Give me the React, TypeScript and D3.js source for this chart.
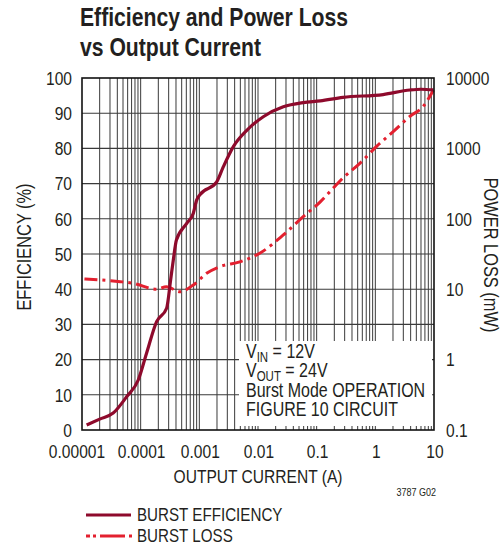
import React from "react";
import * as d3 from "d3";

const W = 502;
const H = 546;

const currentA = [1.2e-5, 2e-5, 3.4e-5, 5.8e-5, 9.1e-5, 1.26e-4, 1.87e-4, 2.77e-4, 3.24e-4, 3.6e-4, 4.07e-4, 6.1e-4, 7.9e-4, 9e-4, 1.02e-3, 1.98e-3, 2.57e-3, 3.8e-3, 6.5e-3, 0.0123, 0.027, 0.059, 0.115, 0.28, 1.36, 3.9, 6, 9.8];
const efficiency = [1.4, 3.1, 4.8, 9.5, 14.2, 21.8, 30.8, 34.6, 42.6, 48.3, 54, 58.7, 61.6, 65.3, 66.8, 70.5, 74.8, 80.5, 85.2, 89, 91.8, 93, 93.5, 94.5, 95.3, 96.6, 96.8, 96.6];

const lossCurrentA = [1.1e-5, 4.5e-5, 7.5e-5, 1.86e-4, 2.75e-4, 4.7e-4, 7.9e-4, 1.33e-3, 2.24e-3, 4.9e-3, 0.0107, 0.027, 0.059, 0.115, 0.17, 0.28, 0.55, 1.05, 2.04, 3.9, 6.6, 9.8];
const lossMw = [14, 12.8, 12.1, 10, 10.8, 9.2, 11.5, 16.8, 20.9, 24.5, 32.4, 59, 107, 174, 245, 380, 617, 1070, 1740, 2860, 3980, 6760];

const xTickValues = [0.00001, 0.0001, 0.001, 0.01, 0.1, 1, 10];
const xTickLabels = ["0.00001", "0.0001", "0.001", "0.01", "0.1", "1", "10"];
const effTicks = [0, 10, 20, 30, 40, 50, 60, 70, 80, 90, 100];
const lossTicks = [0.1, 1, 10, 100, 1000, 10000];
const lossTickLabels = ["0.1", "1", "10", "100", "1000", "10000"];

const titleLines = ["Efficiency and Power Loss", "vs Output Current"];
const legendLabels = ["BURST EFFICIENCY", "BURST LOSS"];

const FONT = "'Liberation Sans', Arial, sans-serif";
const EFF_COLOR = "#8e0a2c";
const LOSS_COLOR = "#e3202f";
const GRID = "#3a3a3a";
const INK = "#231f20";
const SX = 0.82;

type TProps = {
  x: number;
  y: number;
  size: number;
  anchor?: "start" | "middle" | "end";
  weight?: string;
  rotate?: number;
  dy?: string;
  sx?: number;
  children: React.ReactNode;
};

function T({ x, y, size, anchor = "start", weight, rotate = 0, dy, sx = SX, children }: TProps) {
  return (
    <text
      transform={`translate(${x},${y}) rotate(${rotate}) scale(${sx},1)`}
      x={0}
      y={0}
      dy={dy}
      fontSize={size}
      fontWeight={weight}
      textAnchor={anchor}
      fill={INK}
    >
      {children}
    </text>
  );
}

export default function App() {
  const left = 82, right = 434, top = 78, bottom = 430;
  const x = d3.scaleLog().domain([1e-5, 10]).range([left, right]);
  const yE = d3.scaleLinear().domain([0, 100]).range([bottom, top]);
  const yL = d3.scaleLog().domain([0.1, 10000]).range([bottom, top]);

  const vGrid: number[] = [];
  for (let dec = -5; dec <= 0; dec++) {
    for (let k = 1; k <= 9; k++) {
      if (dec === -5 && k === 1) continue;
      vGrid.push(k * Math.pow(10, dec));
    }
  }

  const effLine = d3
    .line<number>()
    .x((_, i) => x(currentA[i]))
    .y((d) => yE(d))
    .curve(d3.curveMonotoneX)(efficiency) as string;

  const lossLine = d3
    .line<number>()
    .x((_, i) => x(lossCurrentA[i]))
    .y((d) => yL(d))
    .curve(d3.curveMonotoneX)(lossMw) as string;

  const box = { x: 239, y: 341, w: 193, h: 85 };

  return (
    <svg width={W} height={H} style={{ position: "absolute", left: 0, top: 0, background: "#fff" }} fontFamily={FONT}>
      <rect x={0} y={0} width={W} height={H} fill="#fff" />
      {titleLines.map((t, i) => (
        <T key={t} x={80} y={26 + i * 30} size={25.5} weight="bold" sx={0.83}>
          {t}
        </T>
      ))}

      {vGrid.map((v) => (
        <line key={"v" + v} x1={x(v)} x2={x(v)} y1={top} y2={bottom} stroke={GRID} strokeWidth={1} />
      ))}
      {effTicks.slice(1, -1).map((v) => (
        <line key={"h" + v} x1={left} x2={right} y1={yE(v)} y2={yE(v)} stroke={GRID} strokeWidth={1.1} />
      ))}

      <path d={lossLine} fill="none" stroke={LOSS_COLOR} strokeWidth={3} strokeDasharray="13 5 3 5" />
      <path d={effLine} fill="none" stroke={EFF_COLOR} strokeWidth={3.2} strokeLinejoin="round" />

      <rect x={box.x} y={box.y} width={box.w} height={box.h} fill="#fff" />
      <g>
        <T x={246} y={357.5} size={19.5}>
          V<tspan fontSize={14} dy={4}>IN</tspan>
          <tspan dy={-4}> = 12V</tspan>
        </T>
        <T x={246} y={377} size={19.5}>
          V<tspan fontSize={14} dy={4}>OUT</tspan>
          <tspan dy={-4}> = 24V</tspan>
        </T>
        <T x={246} y={396.5} size={19.5}>Burst Mode OPERATION</T>
        <T x={246} y={416} size={19.5}>FIGURE 10 CIRCUIT</T>
      </g>

      <rect x={left} y={top} width={right - left} height={bottom - top} fill="none" stroke="#111" strokeWidth={1.6} />

      {effTicks.map((v) => (
        <T key={"el" + v} x={72} y={yE(v)} dy="0.36em" anchor="end" size={19}>
          {v}
        </T>
      ))}
      {lossTicks.map((v, i) => (
        <T key={"ll" + v} x={446} y={yL(v)} dy="0.36em" size={19}>
          {lossTickLabels[i]}
        </T>
      ))}
      {xTickValues.map((v, i) => (
        <T key={"xt" + v} x={x(v) + (i === 0 ? -5 : 1)} y={458} anchor="middle" size={19}>
          {xTickLabels[i]}
        </T>
      ))}

      <T x={258} y={483} anchor="middle" size={19}>
        OUTPUT CURRENT (A)
      </T>
      <T x={31} y={247} rotate={-90} anchor="middle" size={20}>
        EFFICIENCY (%)
      </T>
      <T x={484} y={255} rotate={90} anchor="middle" size={20}>
        POWER LOSS (mW)
      </T>
      <T x={436} y={496} anchor="end" size={11}>
        3787 G02
      </T>

      <line x1={86} x2={131} y1={515} y2={515} stroke={EFF_COLOR} strokeWidth={3.2} />
      <T x={137} y={521} size={18.5}>
        {legendLabels[0]}
      </T>
      <line x1={86} x2={132} y1={536} y2={536} stroke={LOSS_COLOR} strokeWidth={3} strokeDasharray="4 3 3 4 25" />
      <T x={137} y={542} size={18.5}>
        {legendLabels[1]}
      </T>
    </svg>
  );
}
